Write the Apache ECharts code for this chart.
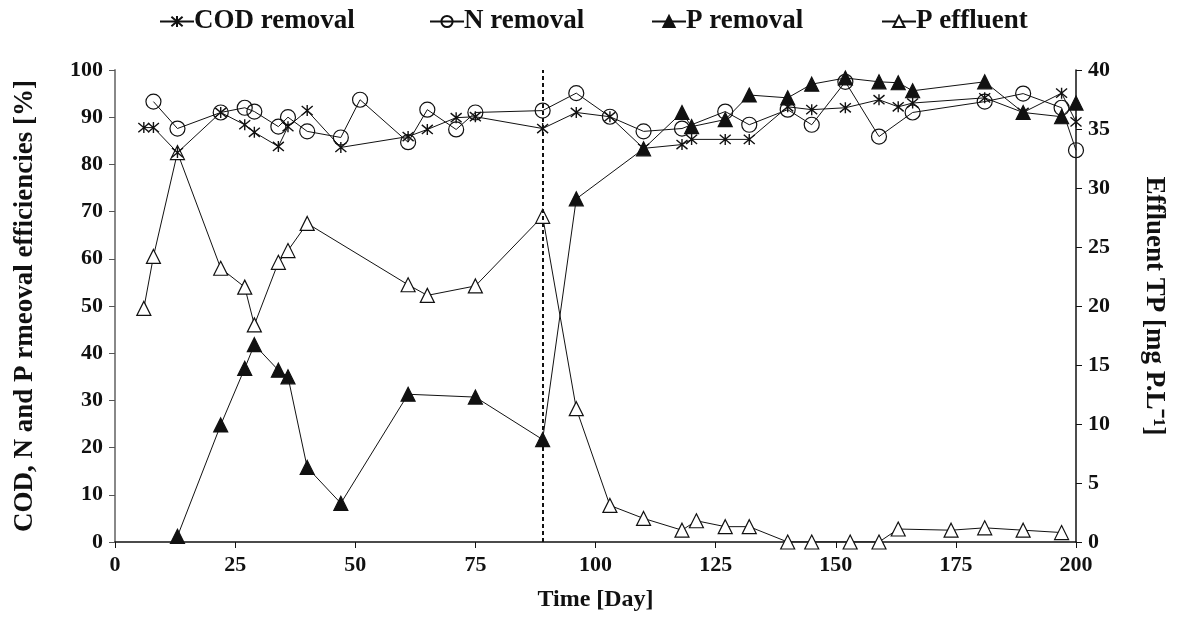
<!DOCTYPE html>
<html>
<head>
<meta charset="utf-8">
<script src="https://cdn.jsdelivr.net/npm/echarts@6/dist/echarts.min.js"></script>
<style>
  html, body { margin: 0; padding: 0; background: #fff; }
  #chart { width: 1181px; height: 617px; }
</style>
</head>
<body>
<div id="chart"></div>
<script>
// days and values
var codDays = [6, 8, 13, 22, 27, 29, 34, 36, 40, 47, 61, 65, 71, 75, 89, 96, 103, 110, 118, 120, 127, 132, 140, 145, 152, 159, 163, 166, 181, 189, 197, 200]
var codRemoval = [87.8, 87.8, 82.5, 91, 88.4, 86.8, 83.8, 88, 91.4, 83.6, 85.9, 87.4, 89.9, 90.1, 87.6, 91, 90.1, 83.4, 84.2, 85.3, 85.3, 85.3, 92.2, 91.6, 92, 93.7, 92.2, 93, 94.1, 91, 95.1, 89]

var nDays = [8, 13, 22, 27, 29, 34, 36, 40, 47, 51, 61, 65, 71, 75, 89, 96, 103, 110, 118, 127, 132, 140, 145, 152, 159, 166, 181, 189, 197, 200]
var nRemoval = [93.3, 87.6, 91, 92, 91.2, 88, 90, 87, 85.7, 93.7, 84.7, 91.6, 87.4, 91, 91.4, 95.1, 90.1, 87, 87.6, 91.2, 88.4, 91.6, 88.4, 97.5, 85.9, 91, 93.3, 95, 92, 83]

var pDays = [13, 22, 27, 29, 34, 36, 40, 47, 61, 75, 89, 96, 110, 118, 120, 127, 132, 140, 145, 152, 159, 163, 166, 181, 189, 197, 200]
var pRemoval = [1.2, 24.8, 36.8, 41.8, 36.4, 35, 15.8, 8.2, 31.3, 30.7, 21.7, 72.7, 83.3, 91, 88, 89.5, 94.7, 94.1, 97, 98.3, 97.5, 97.3, 95.6, 97.5, 91, 90.1, 93]

var effDays = [6, 8, 13, 22, 27, 29, 34, 36, 40, 61, 65, 75, 89, 96, 103, 110, 118, 121, 127, 132, 140, 145, 153, 159, 163, 174, 181, 189, 197]
var pEffluent = [19.8, 24.2, 33, 23.2, 21.6, 18.4, 23.7, 24.7, 27, 21.8, 20.9, 21.7, 27.6, 11.3, 3.1, 2.0, 1.0, 1.8, 1.3, 1.3, 0, 0, 0, 0, 1.1, 1.0, 1.2, 1.0, 0.8]

var switchDay = 89

var legendNames = ['COD removal', 'N removal', 'P removal', 'P effluent']

function pairs(xs, ys) {
  return xs.map(function (x, i) { return [x, ys[i]] })
}

var font = 'Liberation Serif'
var ink = '#111'
// excel style asterisk: X plus a vertical bar
var starPath = 'path://M0,0L10,10M10,0L0,10M5,-1L5,11'

var chart = echarts.init(document.getElementById('chart'))

function lineSeries(name, data, symbol, size, fill, yIndex) {
  return {
    name: name,
    type: 'line',
    yAxisIndex: yIndex,
    data: data,
    symbol: symbol,
    symbolSize: size,
    showAllSymbol: true,
    lineStyle: { color: ink, width: 1 },
    itemStyle: { color: fill, borderColor: ink, borderWidth: 1.2 },
    emphasis: { disabled: true },
    animation: false
  }
}

var series = [
  lineSeries('P effluent', pairs(effDays, pEffluent), 'triangle', 14, '#fff', 1),
  lineSeries('P removal', pairs(pDays, pRemoval), 'triangle', 14, ink, 0),
  lineSeries('N removal', pairs(nDays, nRemoval), 'circle', 15, 'rgba(255,255,255,0)', 0),
  lineSeries('COD removal', pairs(codDays, codRemoval), starPath, 11, ink, 0)
]
series[3].itemStyle.borderWidth = 1.4

series[0].markLine = {
  silent: true,
  symbol: 'none',
  label: { show: false },
  lineStyle: { color: ink, type: [4, 3], width: 2 },
  data: [{ xAxis: switchDay }],
  animation: false
}

// one legend per entry so each sits where the original puts it
var legendLeft = [154, 424, 646, 876]
var legends = legendNames.map(function (name, i) {
  return {
    top: 3,
    left: legendLeft[i],
    itemWidth: 34,
    itemHeight: 14,
    data: [name],
    textStyle: { fontFamily: font, fontWeight: 'bold', fontSize: 27, color: ink, padding: [0, 0, 0, -5] }
  }
})

var tickFont = { fontFamily: font, fontWeight: 'bold', fontSize: 22, color: ink }

chart.setOption({
  backgroundColor: '#fff',
  textStyle: { fontFamily: font, color: ink },
  legend: legends,
  grid: { left: 115, right: 105, top: 70, bottom: 71 },
  xAxis: {
    type: 'value',
    min: 0,
    max: 200,
    interval: 25,
    name: 'Time [Day]',
    nameLocation: 'middle',
    nameGap: 46,
    nameTextStyle: { fontFamily: font, fontWeight: 'bold', fontSize: 24, color: ink },
    splitLine: { show: false },
    axisLine: { lineStyle: { color: ink, width: 1.5 } },
    axisTick: { length: 6, lineStyle: { color: ink } },
    axisLabel: Object.assign({ margin: 12 }, tickFont)
  },
  yAxis: [
    {
      type: 'value',
      min: 0,
      max: 100,
      interval: 10,
      name: 'COD, N and P rmeoval efficiencies [%]',
      nameLocation: 'middle',
      nameGap: 76,
      nameTextStyle: { fontFamily: font, fontWeight: 'bold', fontSize: 27, color: ink },
      splitLine: { show: false },
      axisLine: { show: true, lineStyle: { color: '#888', width: 2 } },
      axisTick: { show: true, length: 6, lineStyle: { color: '#555' } },
      axisLabel: Object.assign({ margin: 12 }, tickFont)
    },
    {
      type: 'value',
      position: 'right',
      min: 0,
      max: 40,
      interval: 5,
      name: 'Effluent TP [mg P.L\u207B\u00B9]',
      nameLocation: 'middle',
      nameRotate: -90,
      nameGap: 64,
      nameTextStyle: { fontFamily: font, fontWeight: 'bold', fontSize: 27, color: ink },
      splitLine: { show: false },
      axisLine: { show: true, lineStyle: { color: ink, width: 1.5 } },
      axisTick: { show: true, length: 6, lineStyle: { color: ink } },
      axisLabel: Object.assign({ margin: 12 }, tickFont)
    }
  ],
  series: series
})
</script>
</body>
</html>
